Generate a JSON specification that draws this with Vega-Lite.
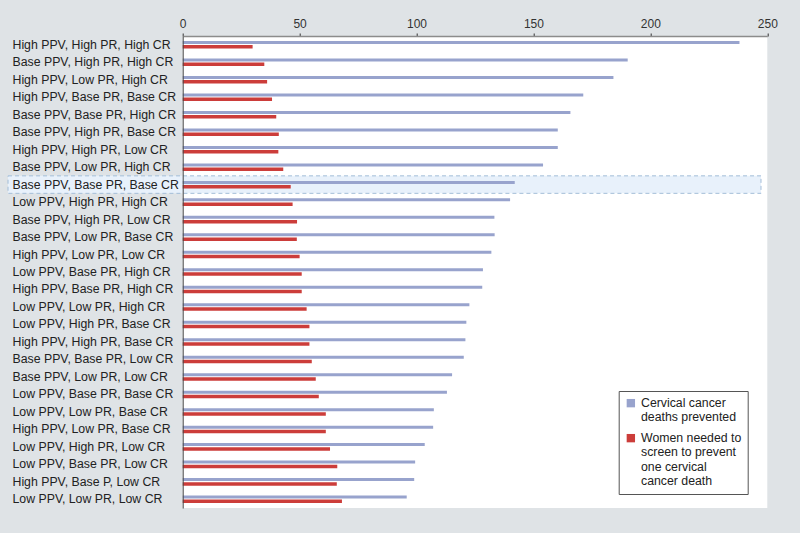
{
  "$schema": "https://vega.github.io/schema/vega-lite/v6.json",
  "width": 584.6,
  "height": 472,
  "autosize": {"type": "none"},
  "padding": {"left": 182.7, "top": 36, "right": 32.7, "bottom": 25},
  "background": "#dfe3e6",
  "config": {
    "view": {"fill": "white", "stroke": null},
    "font": "Liberation Sans"
  },
  "datasets": {
    "rows": [
      {"scenario": "High PPV, High PR, High CR", "deaths": 238.1, "women": 29.9},
      {"scenario": "Base PPV, High PR, High CR", "deaths": 190.3, "women": 34.9},
      {"scenario": "High PPV, Low PR, High CR", "deaths": 184.2, "women": 36.1},
      {"scenario": "High PPV, Base PR, Base CR", "deaths": 171.3, "women": 38.2},
      {"scenario": "Base PPV, Base PR, High CR", "deaths": 165.8, "women": 40.0},
      {"scenario": "Base PPV, High PR, Base CR", "deaths": 160.4, "women": 41.1},
      {"scenario": "High PPV, High PR, Low CR", "deaths": 160.4, "women": 40.9},
      {"scenario": "Base PPV, Low PR, High CR", "deaths": 154.1, "women": 43.0},
      {"scenario": "Base PPV, Base PR, Base CR", "deaths": 142.0, "women": 46.2},
      {"scenario": "Low PPV, High PR, High CR", "deaths": 140.0, "women": 47.0},
      {"scenario": "Base PPV, High PR, Low CR", "deaths": 133.3, "women": 48.9},
      {"scenario": "Base PPV, Low PR, Base CR", "deaths": 133.4, "women": 48.8},
      {"scenario": "High PPV, Low PR, Low CR", "deaths": 132.0, "women": 50.0},
      {"scenario": "Low PPV, Base PR, High CR", "deaths": 128.4, "women": 50.9},
      {"scenario": "High PPV, Base PR, High CR", "deaths": 128.1, "women": 50.9},
      {"scenario": "Low PPV, Low PR, High CR", "deaths": 122.6, "women": 53.0},
      {"scenario": "Low PPV, High PR, Base CR", "deaths": 121.3, "women": 54.2},
      {"scenario": "High PPV, High PR, Base CR", "deaths": 120.9, "women": 54.2},
      {"scenario": "Base PPV, Base PR, Low CR", "deaths": 120.2, "women": 55.2},
      {"scenario": "Base PPV, Low PR, Low CR", "deaths": 115.2, "women": 56.9},
      {"scenario": "Low PPV, Base PR, Base CR", "deaths": 113.0, "women": 58.2},
      {"scenario": "Low PPV, Low PR, Base CR", "deaths": 107.4, "women": 61.2},
      {"scenario": "High PPV, Low PR, Base CR", "deaths": 107.1, "women": 61.2},
      {"scenario": "Low PPV, High PR, Low CR", "deaths": 103.5, "women": 63.0},
      {"scenario": "Low PPV, Base PR, Low CR", "deaths": 99.4, "women": 66.1},
      {"scenario": "High PPV, Base P, Low CR", "deaths": 99.0, "women": 65.9},
      {"scenario": "Low PPV, Low PR, Low CR", "deaths": 95.8, "women": 68.1}
    ],
    "highlight": [
      {"scenario": "Base PPV, Base PR, Base CR", "from": -74.7, "to": 247.3}
    ]
  },
  "encoding": {
    "y": {
      "field": "scenario",
      "type": "nominal",
      "scale": {
        "domain": [
          "High PPV, High PR, High CR", "Base PPV, High PR, High CR", "High PPV, Low PR, High CR",
          "High PPV, Base PR, Base CR", "Base PPV, Base PR, High CR", "Base PPV, High PR, Base CR",
          "High PPV, High PR, Low CR", "Base PPV, Low PR, High CR", "Base PPV, Base PR, Base CR",
          "Low PPV, High PR, High CR", "Base PPV, High PR, Low CR", "Base PPV, Low PR, Base CR",
          "High PPV, Low PR, Low CR", "Low PPV, Base PR, High CR", "High PPV, Base PR, High CR",
          "Low PPV, Low PR, High CR", "Low PPV, High PR, Base CR", "High PPV, High PR, Base CR",
          "Base PPV, Base PR, Low CR", "Base PPV, Low PR, Low CR", "Low PPV, Base PR, Base CR",
          "Low PPV, Low PR, Base CR", "High PPV, Low PR, Base CR", "Low PPV, High PR, Low CR",
          "Low PPV, Base PR, Low CR", "High PPV, Base P, Low CR", "Low PPV, Low PR, Low CR"
        ],
        "paddingInner": 0,
        "paddingOuter": 0
      },
      "axis": {
        "title": null,
        "orient": "left",
        "ticks": false,
        "domainColor": "#444444",
        "domainWidth": 1,
        "labelAlign": "left",
        "labelPadding": 170.7,
        "labelFontSize": 12.3,
        "labelColor": "#222222",
        "labelLimit": 400,
        "zindex": 1
      }
    }
  },
  "layer": [
    {
      "data": {"name": "highlight"},
      "mark": {"type": "rect", "fill": "#e8f1fb", "stroke": "#a3bdd8", "strokeDash": [4, 3], "strokeWidth": 1},
      "encoding": {
        "x": {"field": "from", "type": "quantitative", "scale": {"domain": [0, 250], "nice": false}},
        "x2": {"field": "to"}
      }
    },
    {
      "data": {"name": "rows"},
      "mark": {"type": "bar", "size": 3, "yOffset": -2.2},
      "encoding": {
        "x": {
          "field": "deaths",
          "type": "quantitative",
          "scale": {"domain": [0, 250], "nice": false},
          "axis": {
            "orient": "top",
            "title": null,
            "values": [0, 50, 100, 150, 200, 250],
            "grid": false,
            "tickSize": 3,
            "tickColor": "#333333",
            "domainColor": "#8c8c8c",
            "domainWidth": 1.5,
            "labelFontSize": 12,
            "labelColor": "#333333",
            "labelPadding": 3,
            "labelFlush": false
          }
        },
        "color": {
          "datum": "Cervical cancer deaths prevented",
          "scale": {
            "domain": ["Cervical cancer deaths prevented", "Women needed to screen to prevent one cervical cancer death"],
            "range": ["#98a3cd", "#cc3d3a"]
          },
          "legend": {
            "title": null,
            "orient": "none",
            "legendX": 436,
            "legendY": 355,
            "padding": 6,
            "fillColor": "white",
            "strokeColor": "#555555",
            "symbolType": "square",
            "symbolSize": 70,
            "symbolStrokeWidth": 0,
            "labelFontSize": 12.3,
            "labelLineHeight": 15,
            "labelColor": "#222222",
            "labelBaseline": "middle",
            "rowPadding": 8,
            "labelOffset": 4,
            "labelLimit": 300,
            "labelExpr": "datum.value == 'Cervical cancer deaths prevented' ? ['Cervical cancer', 'deaths prevented'] : ['Women needed to', 'screen to prevent', 'one cervical', 'cancer death']"
          }
        }
      }
    },
    {
      "data": {"name": "rows"},
      "mark": {"type": "bar", "size": 3.5, "yOffset": 2.1},
      "encoding": {
        "x": {"field": "women", "type": "quantitative"},
        "color": {"datum": "Women needed to screen to prevent one cervical cancer death"}
      }
    }
  ]
}
